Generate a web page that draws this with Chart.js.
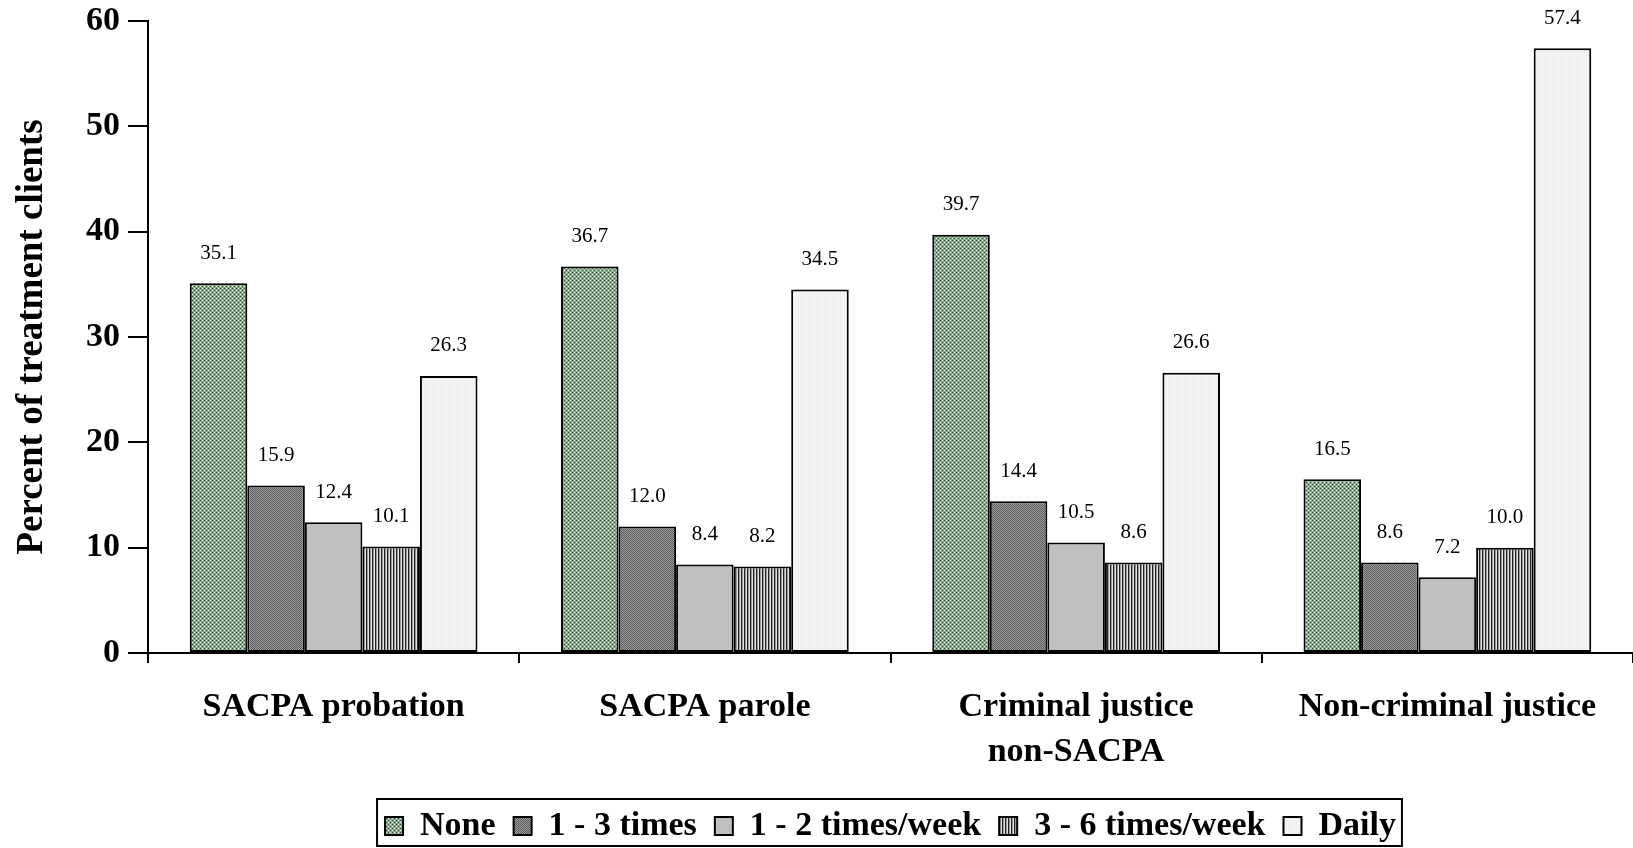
<!DOCTYPE html>
<html>
<head>
<meta charset="utf-8">
<script src="https://cdn.jsdelivr.net/npm/chart.js@4.4.1/dist/chart.umd.min.js"></script>
<style>
  html, body { margin: 0; padding: 0; background: #fff; }
  #wrap { width: 1633px; height: 848px; position: relative; }
</style>
</head>
<body>
<div id="wrap"><canvas id="myCanvas"></canvas></div>
<script>
var categories = [['SACPA probation'], ['SACPA parole'], ['Criminal justice', 'non-SACPA'], ['Non-criminal justice']];
var seriesNames = ['None', '1 - 3 times', '1 - 2 times/week', '3 - 6 times/week', 'Daily'];
var none = [35.1, 36.7, 39.7, 16.5];
var oneToThree = [15.9, 12.0, 14.4, 8.6];
var oneToTwoWeek = [12.4, 8.4, 10.5, 7.2];
var threeToSixWeek = [10.1, 8.2, 8.6, 10.0];
var daily = [26.3, 34.5, 26.6, 57.4];
var yTicks = [0, 10, 20, 30, 40, 50, 60];

var serif = '"Liberation Serif", "Times New Roman", serif';

// small tiled fills, like the old office hatch patterns
function MakePattern(size, paint) {
    var c = document.createElement('canvas');
    c.width = size;
    c.height = size;
    var g = c.getContext('2d');
    paint(g);
    return g.createPattern(c, 'repeat');
}

var ctx = document.getElementById('myCanvas').getContext('2d');

var greenDots = MakePattern(4, function (g) {
    g.fillStyle = '#86b08b'; g.fillRect(0, 0, 4, 4);
    g.fillStyle = '#2a442c'; g.fillRect(0, 0, 1, 1); g.fillRect(2, 2, 1, 1);
    g.fillStyle = '#eef6ee'; g.fillRect(2, 0, 1, 1); g.fillRect(0, 2, 1, 1);
});
var grayCheck = MakePattern(2, function (g) {
    g.fillStyle = '#9a9a9a'; g.fillRect(0, 0, 2, 2);
    g.fillStyle = '#5e5e5e'; g.fillRect(0, 0, 1, 1); g.fillRect(1, 1, 1, 1);
});
var stripes = MakePattern(3, function (g) {
    g.fillStyle = '#9a9a9a'; g.fillRect(0, 0, 3, 3);
    g.fillStyle = '#222222'; g.fillRect(0, 0, 1, 3);
    g.fillStyle = '#e0e0e0'; g.fillRect(2, 0, 1, 3);
});
var lightDots = MakePattern(2, function (g) {
    g.fillStyle = '#f6f6f6'; g.fillRect(0, 0, 2, 2);
    g.fillStyle = '#e6e6e6'; g.fillRect(0, 0, 1, 1);
});

var fills = [greenDots, grayCheck, '#c0c0c0', stripes, lightDots];
var values = [none, oneToThree, oneToTwoWeek, threeToSixWeek, daily];

var datasets = [];
for (var i = 0; i < seriesNames.length; i++) {
    datasets.push({
        label: seriesNames[i],
        data: values[i],
        backgroundColor: fills[i],
        borderColor: '#000',
        borderWidth: 2,
        borderSkipped: false,
        categoryPercentage: 0.775,
        barPercentage: 1.0
    });
}

var valueLabels = {
    id: 'valueLabels',
    afterDatasetsDraw: function (chart) {
        var c = chart.ctx;
        c.save();
        c.font = '21px ' + serif;
        c.fillStyle = '#000';
        c.textAlign = 'center';
        c.textBaseline = 'middle';
        chart.data.datasets.forEach(function (ds, di) {
            chart.getDatasetMeta(di).data.forEach(function (bar, j) {
                c.fillText(ds.data[j].toFixed(1), bar.x, bar.y - 30);
            });
        });
        c.restore();
    }
};

// the legend sits centred under the plot area, not the whole canvas
var legendBox = {
    id: 'legendBox',
    afterLayout: function (chart) {
        var lg = chart.legend;
        var area = chart.chartArea;
        var dx = (area.left + area.right) / 2 - (lg.left + lg.right) / 2;
        var dy = 5;
        lg.left += dx; lg.right += dx;
        lg.top += dy; lg.bottom += dy;
        lg.legendHitBoxes.forEach(function (b) { b.left += dx; b.top += dy; });
    },
    afterDraw: function (chart) {
        var boxes = chart.legend.legendHitBoxes;
        if (!boxes || !boxes.length) return;
        var left = boxes[0].left - 8;
        var last = boxes[boxes.length - 1];
        var right = last.left + last.width + 6;
        var c = chart.ctx;
        c.save();
        c.strokeStyle = '#000';
        c.lineWidth = 2;
        c.strokeRect(left, 799, right - left, 47);
        c.restore();
    }
};

var myChart = new Chart(ctx, {
    type: 'bar',
    data: { labels: categories, datasets: datasets },
    plugins: [valueLabels, legendBox],
    options: {
        responsive: true,
        maintainAspectRatio: false,
        animation: false,
        layout: { padding: { top: 0, right: 0, left: 0, bottom: 0 } },
        plugins: {
            tooltip: { enabled: false },
            legend: {
                position: 'bottom',
                labels: {
                    boxWidth: 18,
                    boxHeight: 18,
                    padding: 18,
                    color: '#000',
                    font: { family: serif, size: 34, weight: 'bold' },
                    generateLabels: function (chart) {
                        return chart.data.datasets.map(function (ds, i) {
                            return {
                                text: ds.label,
                                fillStyle: ds.backgroundColor,
                                strokeStyle: '#000',
                                lineWidth: 2,
                                datasetIndex: i
                            };
                        });
                    }
                }
            }
        },
        scales: {
            x: {
                offset: true,
                grid: { offset: true, drawOnChartArea: false, color: '#000', lineWidth: 2, tickLength: 10 },
                border: { color: '#000', width: 2 },
                ticks: {
                    color: '#000',
                    padding: 22,
                    maxRotation: 0,
                    font: { family: serif, size: 34, weight: 'bold', lineHeight: 1.32 }
                },
                afterFit: function (scale) { scale.height = 133; }
            },
            y: {
                min: 0,
                max: 60,
                afterBuildTicks: function (scale) {
                    scale.ticks = yTicks.map(function (v) { return { value: v }; });
                },
                grid: { drawOnChartArea: false, color: '#000', lineWidth: 2, tickLength: 20 },
                border: { color: '#000', width: 2 },
                ticks: {
                    color: '#000',
                    padding: 8,
                    font: { family: serif, size: 34, weight: 'bold', lineHeight: 0.76 }
                },
                title: {
                    display: true,
                    text: 'Percent of treatment clients',
                    color: '#000',
                    padding: { top: 10, bottom: 0 },
                    font: { family: serif, size: 37, weight: 'bold', lineHeight: 1.2 }
                },
                afterFit: function (scale) { scale.width = 148; }
            }
        }
    }
});
</script>
</body>
</html>
